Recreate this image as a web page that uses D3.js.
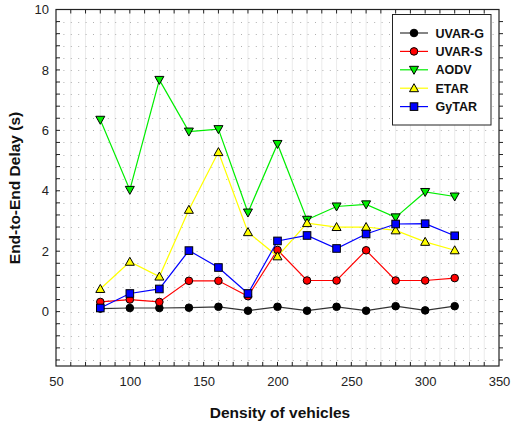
<!DOCTYPE html>
<html><head><meta charset="utf-8">
<script src="https://cdn.jsdelivr.net/npm/d3@7"></script>
<style>body{margin:0;background:#fff;} text{font-family:"Liberation Sans",Arial,sans-serif;}</style>
</head><body><svg id="c" width="511" height="427"></svg>
<script>
const xValues = [80,100,120,140,160,180,200,220,240,260,280,300,320];
const uvarG = [0.10,0.12,0.12,0.13,0.16,0.03,0.16,0.03,0.16,0.03,0.18,0.04,0.18];
const uvarS = [0.32,0.40,0.32,1.02,1.02,0.51,2.04,1.03,1.03,2.03,1.03,1.03,1.11];
const aodv  = [6.35,4.03,7.67,5.96,6.04,3.28,5.55,3.04,3.48,3.55,3.12,3.96,3.81];
const etar  = [0.75,1.65,1.16,3.37,5.28,2.63,1.83,2.93,2.80,2.80,2.69,2.31,2.03];
const gytar = [0.12,0.60,0.75,2.02,1.46,0.60,2.34,2.52,2.09,2.57,2.90,2.91,2.51];
const seriesNames = ["UVAR-G","UVAR-S","AODV","ETAR","GyTAR"];
const xTicks = [50,100,150,200,250,300,350];
const yTicks = [0,2,4,6,8,10];
const xLabel = "Density of vehicles";
const yLabel = "End-to-End Delay (s)";

const series = [
  {name:seriesNames[0], values:uvarG, color:"#000000", line:"#333333", shape:"circle"},
  {name:seriesNames[1], values:uvarS, color:"#ff0000", line:"#ff0000", shape:"circle"},
  {name:seriesNames[2], values:aodv,  color:"#00ee00", line:"#00ee00", shape:"tdown"},
  {name:seriesNames[3], values:etar,  color:"#ffff00", line:"#ffff00", shape:"tup"},
  {name:seriesNames[4], values:gytar, color:"#0000ff", line:"#0000ff", shape:"square"}
];

const svg = d3.select("#c");
const x = d3.scaleLinear().domain([50,350]).range([56,499]);
const y = d3.scaleLinear().domain([-1.8,10]).range([366,9.5]);

// grid
const g = svg.append("g");
const xMinor = d3.range(60,350,10);
g.selectAll(".vg").data(xMinor).enter().append("line")
  .attr("x1",d=>x(d)).attr("x2",d=>x(d)).attr("y1",y(10)).attr("y2",y(-1.8))
  .attr("stroke","#ebebeb").attr("stroke-width",1);
const yMinor = d3.range(-1.6,10,0.4).map(v=>+v.toFixed(2));
g.selectAll(".hg").data(yMinor).enter().append("line")
  .attr("x1",x(50)).attr("x2",x(350)).attr("y1",d=>Math.round(y(d))+0.5).attr("y2",d=>Math.round(y(d))+0.5)
  .attr("stroke","#b0b0b0").attr("stroke-width",1).attr("stroke-dasharray","1,6.4");

// frame
svg.append("rect").attr("x",x(50)).attr("y",y(10)).attr("width",x(350)-x(50)).attr("height",y(-1.8)-y(10))
  .attr("fill","none").attr("stroke","#222").attr("stroke-width",1.2);

// axes
const xAxis = d3.axisBottom(x).tickValues(xTicks).tickSize(0).tickPadding(11);
const ax = svg.append("g").attr("transform",`translate(0,${y(-1.8)})`).call(xAxis);
ax.select(".domain").remove();
ax.selectAll("text").attr("font-size",13).attr("fill","#222");
const yAxis = d3.axisLeft(y).tickValues(yTicks).tickSize(0).tickPadding(7);
const ay = svg.append("g").attr("transform",`translate(${x(50)},0)`).call(yAxis);
ay.select(".domain").remove();
ay.selectAll("text").attr("font-size",13).attr("fill","#222");

// inner ticks
const tk = svg.append("g").attr("stroke","#222").attr("stroke-width",1);
xMinor.forEach(v=>{
  tk.append("line").attr("x1",x(v)).attr("x2",x(v)).attr("y1",y(-1.8)).attr("y2",y(-1.8)-4);
  tk.append("line").attr("x1",x(v)).attr("x2",x(v)).attr("y1",y(10)).attr("y2",y(10)+4);
});
yMinor.forEach(v=>{
  tk.append("line").attr("x1",x(50)).attr("x2",x(50)+4).attr("y1",y(v)).attr("y2",y(v));
  tk.append("line").attr("x1",x(350)).attr("x2",x(350)+4).attr("y1",y(v)).attr("y2",y(v));
});

// labels
svg.append("text").attr("x",280).attr("y",418).attr("text-anchor","middle")
  .attr("font-size",15.5).attr("font-weight","bold").attr("fill","#111").text(xLabel);
svg.append("text").attr("transform",`translate(20,${188}) rotate(-90)`).attr("text-anchor","middle")
  .attr("font-size",15.5).attr("font-weight","bold").attr("fill","#111").text(yLabel);

function marker(sel, shape, color){
  const r = 3.8;
  if(shape==="circle") sel.append("circle").attr("r",r);
  else if(shape==="square") sel.append("rect").attr("x",-r).attr("y",-r).attr("width",2*r).attr("height",2*r);
  else if(shape==="tdown") sel.append("path").attr("d",`M${-4.5},${-3.5}L4.5,${-3.5}L0,4.5Z`);
  else sel.append("path").attr("d",`M${-4.5},3.5L4.5,3.5L0,${-4.5}Z`);
  sel.selectAll("*").attr("fill",color).attr("stroke","#000").attr("stroke-width",1);
}

const line = d3.line().x((d,i)=>x(xValues[i])).y(d=>y(d));
series.forEach(s=>{
  svg.append("path").attr("d",line(s.values)).attr("fill","none").attr("stroke",s.line).attr("stroke-width",1.2);
});
series.forEach(s=>{
  s.values.forEach((v,i)=>{
    const m = svg.append("g").attr("transform",`translate(${x(xValues[i])},${y(v)})`);
    marker(m,s.shape,s.color);
  });
});

// legend
const lg = svg.append("g");
lg.append("rect").attr("x",392.5).attr("y",14.5).attr("width",98.5).attr("height",110.5)
  .attr("fill","#fff").attr("stroke","#222").attr("stroke-width",1);
series.forEach((s,i)=>{
  const yy = 33 + i*18.4;
  lg.append("line").attr("x1",400).attr("x2",428).attr("y1",yy).attr("y2",yy).attr("stroke",s.line).attr("stroke-width",1.2);
  const m = lg.append("g").attr("transform",`translate(414,${yy})`);
  marker(m,s.shape,s.color);
  lg.append("text").attr("x",435.5).attr("y",yy+4.5).attr("font-size",12.5).attr("font-weight","bold").attr("fill","#111").text(s.name);
});
</script></body></html>
